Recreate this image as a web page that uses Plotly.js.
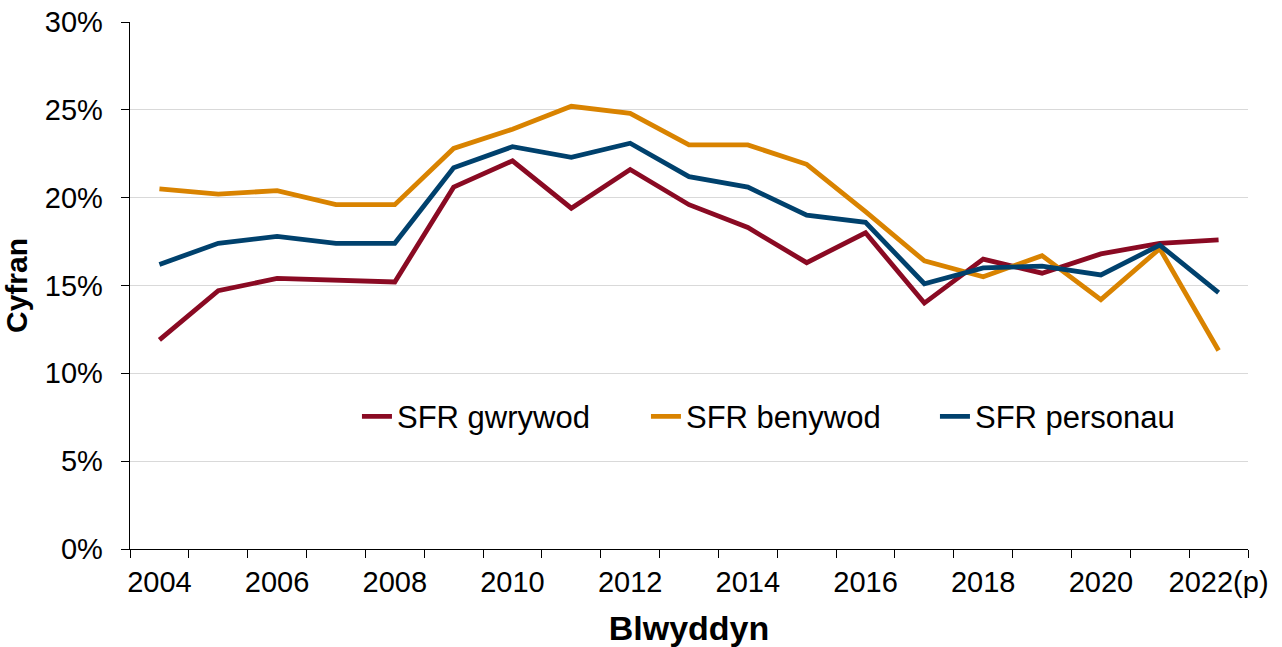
<!DOCTYPE html>
<html>
<head>
<meta charset="utf-8">
<script src="https://cdn.plot.ly/plotly-3.0.1.min.js"></script>
<style>
  html, body { margin: 0; padding: 0; background: #ffffff; }
  #chart { width: 1282px; height: 647px; }
</style>
</head>
<body>
<div id="chart"></div>
<script>
const years = ["2004","2005","2006","2007","2008","2009","2010","2011","2012","2013","2014","2015","2016","2017","2018","2019","2020","2021","2022(p)"];
const tickLabels = ["2004","","2006","","2008","","2010","","2012","","2014","","2016","","2018","","2020","","2022(p)"];

const sfrGwrywod = [11.9, 14.7, 15.4, 15.3, 15.2, 20.6, 22.1, 19.4, 21.6, 19.6, 18.3, 16.3, 18.0, 14.0, 16.5, 15.7, 16.8, 17.4, 17.6];
const sfrBenywod = [20.5, 20.2, 20.4, 19.6, 19.6, 22.8, 23.9, 25.2, 24.8, 23.0, 23.0, 21.9, 19.2, 16.4, 15.5, 16.7, 14.2, 17.1, 11.3];
const sfrPersonau = [16.2, 17.4, 17.8, 17.4, 17.4, 21.7, 22.9, 22.3, 23.1, 21.2, 20.6, 19.0, 18.6, 15.1, 16.0, 16.1, 15.6, 17.3, 14.6];

const seriesNames = ["SFR gwrywod", "SFR benywod", "SFR personau"];
const seriesColors = ["#8A0A23", "#D98300", "#00416D"];
const seriesData = [sfrGwrywod, sfrBenywod, sfrPersonau];

const FONT = '"Liberation Sans", Arial, sans-serif';

const traces = seriesData.map((vals, i) => ({
  type: 'scatter',
  mode: 'lines',
  x: years,
  y: vals,
  name: seriesNames[i],
  line: { color: seriesColors[i], width: 4.8 },
  hoverinfo: 'x+y+name'
}));

const layout = {
  width: 1282,
  height: 647,
  margin: { l: 130, r: 34, t: 22, b: 98 },
  paper_bgcolor: '#ffffff',
  plot_bgcolor: '#ffffff',
  font: { family: FONT, color: '#000000', size: 29 },
  showlegend: true,
  legend: {
    orientation: 'h',
    x: 0.203,
    xanchor: 'left',
    y: 0.251,
    yanchor: 'middle',
    bgcolor: 'rgba(0,0,0,0)',
    borderwidth: 0,
    entrywidth: 244,
    entrywidthmode: 'pixels',
    font: { family: FONT, size: 31, color: '#000000' }
  },
  xaxis: {
    type: 'category',
    categoryorder: 'array',
    categoryarray: years,
    tickmode: 'array',
    tickvals: years,
    ticktext: tickLabels,
    tickson: 'boundaries',
    tickangle: 0,
    ticks: 'outside',
    ticklen: 8,
    tickwidth: 1,
    tickcolor: '#000000',
    ticklabelstandoff: 7,
    showline: true,
    linecolor: '#000000',
    linewidth: 1.3,
    showgrid: false,
    zeroline: false,
    tickfont: { family: FONT, size: 29, color: '#000000' },
    title: {
      text: '<b>Blwyddyn</b>',
      font: { family: FONT, size: 34, color: '#000000' },
      standoff: 26
    },
    range: [-0.5, 18.5],
    fixedrange: true
  },
  yaxis: {
    range: [0, 30],
    dtick: 5,
    tick0: 0,
    ticksuffix: '%',
    ticks: 'outside',
    ticklen: 8,
    tickwidth: 1,
    tickcolor: '#000000',
    ticklabelstandoff: 12,
    showline: true,
    linecolor: '#000000',
    linewidth: 1.3,
    showgrid: true,
    gridcolor: '#D9D9D9',
    gridwidth: 1,
    zeroline: false,
    tickfont: { family: FONT, size: 29, color: '#000000' },
    title: {
      text: '<b>Cyfran</b>',
      font: { family: FONT, size: 30, color: '#000000' },
      standoff: 8
    },
    fixedrange: true
  }
};

Plotly.newPlot('chart', traces, layout, { displayModeBar: false, staticPlot: true });
</script>
</body>
</html>
